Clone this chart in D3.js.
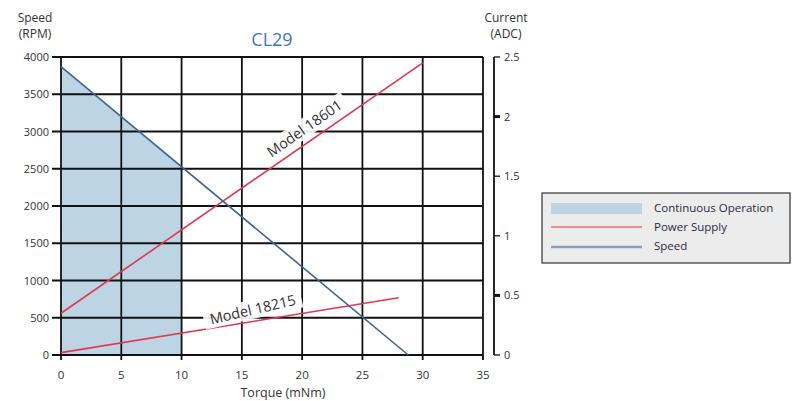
<!DOCTYPE html>
<html>
<head>
<script src="https://d3js.org/d3.v7.min.js"></script>
<style>
  body { margin: 0; background: white; }
  text { font-family: "Open Sans", "Noto Sans", sans-serif; fill: #333; }
</style>
</head>
<body>
<svg id="chart" width="798" height="401"></svg>
<script>
// data
const torqueTicks = [0, 5, 10, 15, 20, 25, 30, 35];
const speedTicks = [0, 500, 1000, 1500, 2000, 2500, 3000, 3500, 4000];
const currentTicks = [0, 0.5, 1, 1.5, 2, 2.5];

const speedTorque = [0, 28.8];
const speedRpm = [3870, 0];

const contTorque = [0, 10];

const m18601Torque = [0, 30];
const m18601Current = [0.35, 2.45];

const m18215Torque = [0, 28];
const m18215Current = [0.02, 0.48];

const legendItems = ["Continuous Operation", "Power Supply", "Speed"];

const red = "#e2374f", blue = "#3f6399", shade = "#bcd4e4";

const svg = d3.select("#chart");
const x = d3.scaleLinear([0, 35], [61, 483]);
const y = d3.scaleLinear([0, 4000], [355, 57]);
const yc = d3.scaleLinear([0, 2.5], [355, 57]);

// speed at a torque, straight line between the two read points
const speedAt = d3.scaleLinear(speedTorque, speedRpm);

// shaded continuous operation region
const area = contTorque.map(t => [t, speedAt(t)]);
svg.append("path")
  .attr("d", d3.area().x(d => x(d[0])).y0(y(0)).y1(d => y(d[1]))(area))
  .attr("fill", shade);

// grid
svg.append("g").selectAll("line").data(speedTicks).join("line")
  .attr("x1", 52).attr("x2", x(35))
  .attr("y1", d => y(d)).attr("y2", d => y(d))
  .attr("stroke", "#111").attr("stroke-width", 1.8);
svg.append("g").selectAll("line").data(torqueTicks).join("line")
  .attr("x1", d => x(d)).attr("x2", d => x(d))
  .attr("y1", y(4000)).attr("y2", y(0) + 5)
  .attr("stroke", "#111").attr("stroke-width", 1.8);

// left labels
svg.append("g").selectAll("text").data(speedTicks).join("text")
  .attr("x", 49).attr("y", d => y(d) + 4)
  .attr("text-anchor", "end").attr("font-size", 11)
  .text(d => d);
// bottom labels
svg.append("g").selectAll("text").data(torqueTicks).join("text")
  .attr("x", d => x(d)).attr("y", 379)
  .attr("text-anchor", "middle").attr("font-size", 11.5)
  .text(d => d);

// right axis
const ax = 494;
svg.append("line").attr("x1", ax).attr("x2", ax)
  .attr("y1", yc(2.5)).attr("y2", yc(0))
  .attr("stroke", "#111").attr("stroke-width", 1.8);
svg.append("g").selectAll("line").data(currentTicks).join("line")
  .attr("x1", ax).attr("x2", ax + 6)
  .attr("y1", d => yc(d)).attr("y2", d => yc(d))
  .attr("stroke", "#111").attr("stroke-width", d => (d == 2 || d == 0.5) ? 3 : 1.3);
svg.append("g").selectAll("text").data(currentTicks).join("text")
  .attr("x", ax + 10).attr("y", d => yc(d) + 4)
  .attr("font-size", 11)
  .text(d => d);

// lines
const lineC = d3.line().x(d => x(d[0])).y(d => yc(d[1]));
svg.append("path")
  .attr("d", lineC(d3.zip(m18601Torque, m18601Current)))
  .attr("fill", "none").attr("stroke", red).attr("stroke-width", 1.6);
svg.append("path")
  .attr("d", lineC(d3.zip(m18215Torque, m18215Current)))
  .attr("fill", "none").attr("stroke", red).attr("stroke-width", 1.6);
svg.append("path")
  .attr("d", d3.line().x(d => x(d[0])).y(d => y(d[1]))(d3.zip(speedTorque, speedRpm)))
  .attr("fill", "none").attr("stroke", blue).attr("stroke-width", 1.6);

// model labels
function modelLabel(txt, t, c, ang) {
  const g = svg.append("g")
    .attr("transform", "translate(" + x(t) + "," + yc(c) + ") rotate(" + ang + ")");
  g.append("rect").attr("x", -50).attr("y", -10).attr("width", 100).attr("height", 19)
    .attr("fill", "white").attr("opacity", 0.9);
  g.append("text").attr("text-anchor", "middle").attr("y", 5)
    .attr("font-size", 14.5).attr("fill", "#222").text(txt);
}
modelLabel("Model 18601", 20.2, 1.9, -35);
modelLabel("Model 18215", 15.9, 0.38, -13);

// titles
svg.append("text").attr("x", 272).attr("y", 46).attr("text-anchor", "middle")
  .attr("font-size", 18).style("fill", "#3b78c0").text("CL29");
svg.append("text").attr("x", 35).attr("y", 22).attr("text-anchor", "middle")
  .attr("font-size", 12).text("Speed");
svg.append("text").attr("x", 35).attr("y", 38).attr("text-anchor", "middle")
  .attr("font-size", 12).text("(RPM)");
svg.append("text").attr("x", 506).attr("y", 22).attr("text-anchor", "middle")
  .attr("font-size", 12).text("Current");
svg.append("text").attr("x", 506).attr("y", 38).attr("text-anchor", "middle")
  .attr("font-size", 12).text("(ADC)");
svg.append("text").attr("x", 283).attr("y", 397).attr("text-anchor", "middle")
  .attr("font-size", 12.5).text("Torque (mNm)");

// legend
const lg = svg.append("g");
lg.append("rect").attr("x", 542).attr("y", 193).attr("width", 248).attr("height", 70)
  .attr("fill", "#ececec").attr("stroke", "#333").attr("stroke-width", 1.2);
const ly = d3.scalePoint(legendItems, [208, 246]);
lg.append("rect").attr("x", 551).attr("y", ly(legendItems[0]) - 5).attr("width", 91).attr("height", 11)
  .attr("fill", shade);
lg.append("line").attr("x1", 551).attr("x2", 642)
  .attr("y1", ly(legendItems[1])).attr("y2", ly(legendItems[1]))
  .attr("stroke", "#f08a94").attr("stroke-width", 2);
lg.append("line").attr("x1", 551).attr("x2", 642)
  .attr("y1", ly(legendItems[2]) + 1).attr("y2", ly(legendItems[2]) + 1)
  .attr("stroke", "#8a9ec4").attr("stroke-width", 2.5);
lg.selectAll("text").data(legendItems).join("text")
  .attr("x", 654).attr("y", d => ly(d) + 4)
  .attr("font-size", 11.5).style("fill", "#2a2a40")
  .text(d => d);
</script>
</body>
</html>
